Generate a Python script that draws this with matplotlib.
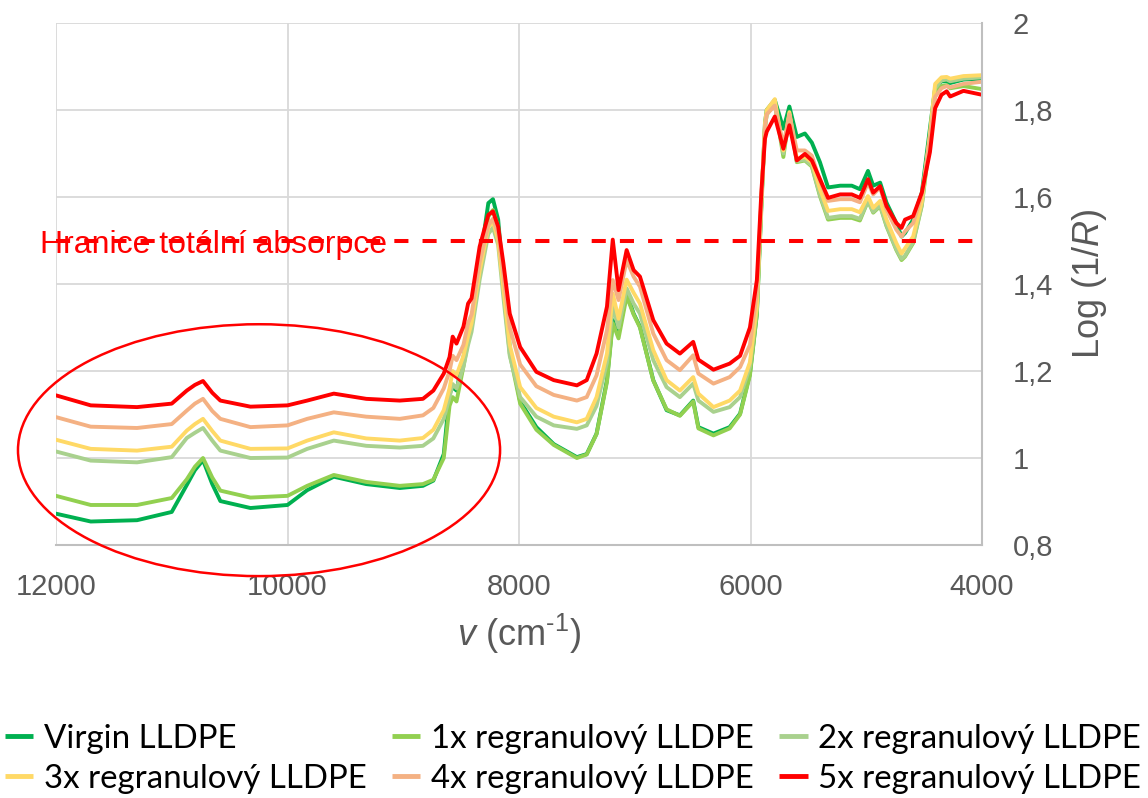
import matplotlib
matplotlib.use("Agg")
import matplotlib.pyplot as plt
from matplotlib.patches import Ellipse

plt.rcParams['font.family'] = ['Liberation Sans', 'DejaVu Sans']
plt.rcParams['mathtext.fontset'] = 'custom'
plt.rcParams['mathtext.rm'] = 'Liberation Sans'
plt.rcParams['mathtext.it'] = 'Liberation Sans:italic'

# ---------------- data ----------------
wavenumber = [12000, 11700, 11300, 11000, 10870, 10800, 10730, 10650, 10580, 10320, 10000, 9830,
              9600, 9320, 9030, 8830, 8740, 8650, 8600, 8573, 8540, 8480,
              8440, 8410, 8340, 8265, 8225, 8180, 8135, 8080, 7990, 7850,
              7700, 7500, 7415, 7330, 7240, 7190, 7140, 7070, 7010, 6955,
              6840, 6725, 6610, 6495, 6450, 6320, 6180, 6090, 6005, 5945,
              5905, 5875, 5860, 5790, 5716, 5664, 5600, 5530, 5470, 5400,
              5330, 5225, 5125, 5055, 4985, 4940, 4880, 4825, 4740, 4695,
              4665, 4595, 4520, 4450, 4405, 4350, 4305, 4275, 4160, 4000]

virgin = [0.872, 0.854, 0.857, 0.876, 0.938, 0.972, 0.995, 0.940, 0.901, 0.885, 0.892, 0.926,
          0.957, 0.940, 0.931, 0.936, 0.948, 1.009, 1.148, 1.163, 1.155, 1.232,
          1.280, 1.309, 1.448, 1.586, 1.595, 1.548, 1.409, 1.255, 1.130, 1.071,
          1.032, 1.002, 1.009, 1.056, 1.179, 1.317, 1.286, 1.379, 1.332, 1.302,
          1.179, 1.110, 1.098, 1.132, 1.071, 1.056, 1.071, 1.102, 1.194, 1.332,
          1.590, 1.770, 1.800, 1.823, 1.757, 1.808, 1.738, 1.746, 1.725, 1.680,
          1.622, 1.626, 1.626, 1.618, 1.660, 1.626, 1.633, 1.587, 1.540, 1.509,
          1.517, 1.548, 1.610, 1.757, 1.850, 1.866, 1.866, 1.862, 1.870, 1.872]

regr_1x = [0.913, 0.892, 0.892, 0.908, 0.951, 0.980, 1.000, 0.955, 0.925, 0.909, 0.913, 0.936,
           0.961, 0.945, 0.936, 0.940, 0.950, 1.000, 1.120, 1.140, 1.130, 1.210,
           1.270, 1.300, 1.430, 1.555, 1.570, 1.530, 1.390, 1.240, 1.125, 1.065,
           1.030, 1.000, 1.008, 1.055, 1.175, 1.310, 1.275, 1.372, 1.330, 1.300,
           1.178, 1.112, 1.097, 1.130, 1.068, 1.052, 1.068, 1.100, 1.190, 1.330,
           1.580, 1.760, 1.790, 1.815, 1.692, 1.790, 1.680, 1.684, 1.670, 1.602,
           1.548, 1.552, 1.552, 1.546, 1.591, 1.564, 1.579, 1.533, 1.478, 1.455,
           1.463, 1.494, 1.580, 1.730, 1.840, 1.855, 1.857, 1.850, 1.855, 1.848]

regr_2x = [1.015, 0.994, 0.990, 1.002, 1.046, 1.058, 1.069, 1.040, 1.017, 1.000, 1.001, 1.021,
           1.040, 1.028, 1.024, 1.028, 1.045, 1.090, 1.140, 1.170, 1.160, 1.210,
           1.260, 1.290, 1.410, 1.515, 1.530, 1.490, 1.370, 1.235, 1.140, 1.095,
           1.075, 1.067, 1.075, 1.120, 1.220, 1.348, 1.300, 1.390, 1.355, 1.332,
           1.225, 1.163, 1.140, 1.171, 1.132, 1.106, 1.117, 1.140, 1.210, 1.345,
           1.600, 1.760, 1.790, 1.815, 1.700, 1.790, 1.682, 1.686, 1.672, 1.605,
           1.552, 1.556, 1.556, 1.550, 1.591, 1.566, 1.581, 1.535, 1.480, 1.458,
           1.465, 1.497, 1.582, 1.740, 1.850, 1.868, 1.870, 1.866, 1.872, 1.875]

regr_3x = [1.042, 1.021, 1.017, 1.026, 1.063, 1.078, 1.090, 1.062, 1.040, 1.021, 1.022, 1.040,
           1.059, 1.045, 1.040, 1.046, 1.065, 1.110, 1.160, 1.200, 1.190, 1.235,
           1.280, 1.310, 1.430, 1.530, 1.545, 1.500, 1.390, 1.260, 1.163, 1.115,
           1.095, 1.082, 1.090, 1.140, 1.240, 1.378, 1.320, 1.410, 1.380, 1.355,
           1.248, 1.179, 1.155, 1.186, 1.148, 1.117, 1.132, 1.155, 1.220, 1.350,
           1.600, 1.770, 1.800, 1.825, 1.707, 1.795, 1.688, 1.692, 1.680, 1.618,
           1.568, 1.572, 1.572, 1.565, 1.602, 1.575, 1.591, 1.548, 1.494, 1.470,
           1.482, 1.509, 1.590, 1.745, 1.860, 1.875, 1.876, 1.872, 1.878, 1.880]

regr_4x = [1.094, 1.072, 1.069, 1.078, 1.109, 1.125, 1.136, 1.108, 1.090, 1.071, 1.075, 1.090,
           1.105, 1.095, 1.090, 1.098, 1.115, 1.160, 1.200, 1.235, 1.225, 1.260,
           1.310, 1.330, 1.450, 1.535, 1.550, 1.515, 1.420, 1.300, 1.215, 1.165,
           1.145, 1.132, 1.140, 1.190, 1.294, 1.409, 1.363, 1.455, 1.417, 1.394,
           1.286, 1.225, 1.202, 1.236, 1.194, 1.171, 1.186, 1.209, 1.260, 1.380,
           1.600, 1.760, 1.790, 1.810, 1.719, 1.790, 1.707, 1.707, 1.695, 1.637,
           1.591, 1.595, 1.595, 1.588, 1.633, 1.606, 1.622, 1.571, 1.525, 1.509,
           1.521, 1.540, 1.605, 1.735, 1.830, 1.850, 1.855, 1.852, 1.860, 1.865]

regr_5x = [1.144, 1.121, 1.117, 1.125, 1.155, 1.168, 1.177, 1.150, 1.132, 1.118, 1.121, 1.132,
           1.148, 1.136, 1.132, 1.136, 1.155, 1.194, 1.232, 1.279, 1.263, 1.302,
           1.355, 1.367, 1.486, 1.559, 1.567, 1.532, 1.448, 1.332, 1.255, 1.198,
           1.179, 1.167, 1.179, 1.240, 1.348, 1.502, 1.386, 1.478, 1.432, 1.417,
           1.317, 1.263, 1.240, 1.267, 1.226, 1.203, 1.217, 1.235, 1.300, 1.409,
           1.617, 1.734, 1.750, 1.785, 1.711, 1.765, 1.684, 1.699, 1.684, 1.641,
           1.598, 1.606, 1.606, 1.598, 1.641, 1.610, 1.625, 1.579, 1.540, 1.529,
           1.548, 1.556, 1.610, 1.703, 1.804, 1.835, 1.843, 1.831, 1.844, 1.835]

series_labels = ["Virgin LLDPE", "1x regranulový LLDPE", "2x regranulový LLDPE",
                 "3x regranulový LLDPE", "4x regranulový LLDPE", "5x regranulový LLDPE"]
series_values = [virgin, regr_1x, regr_2x, regr_3x, regr_4x, regr_5x]
series_colors = ["#00B050", "#92D050", "#A9D18E", "#FFD966", "#F4B183", "#FF0000"]

x_ticks = [12000, 10000, 8000, 6000, 4000]
y_ticks = [0.8, 1.0, 1.2, 1.4, 1.6, 1.8, 2.0]
y_tick_labels = ["0,8", "1", "1,2", "1,4", "1,6", "1,8", "2"]
limit_value = 1.5
limit_label = "Hranice totální absorpce"

# ---------------- figure ----------------
fig = plt.figure(figsize=(11.48, 7.98), dpi=100)
ax = fig.add_axes([56 / 1148, 1 - 545 / 798, (982 - 56) / 1148, (545 - 23) / 798])

lines = []
for vals, lab, col in zip(series_values, series_labels, series_colors):
    ln, = ax.plot(wavenumber, vals, color=col, lw=2.8, label=lab,
                  solid_joinstyle='round', solid_capstyle='round')
    lines.append(ln)

ax.set_xlim(12000, 4000)
ax.set_ylim(0.8, 2.0)
ax.set_xticks(x_ticks)
ax.set_xticklabels([str(t) for t in x_ticks])
ax.set_yticks(y_ticks)
ax.set_yticklabels(y_tick_labels)
ax.yaxis.tick_right()
ax.yaxis.set_label_position('right')
ax.tick_params(axis='both', length=0, labelsize=21, colors='#595959')
ax.tick_params(axis='x', pad=20)
ax.tick_params(axis='y', pad=22)

ax.grid(True, color='#D9D9D9', lw=1.3)
ax.set_axisbelow(True)
for s in ['left', 'top']:
    ax.spines[s].set_visible(False)
for s in ['right', 'bottom']:
    ax.spines[s].set_color('#BFBFBF')
    ax.spines[s].set_linewidth(1.5)

ax.set_xlabel(r"$\it{v}$ (cm$^{\text{-1}}$)", fontsize=26, color='#595959', labelpad=8)
ax.set_ylabel(r"Log (1/$\it{R}$)", fontsize=26, color='#595959', labelpad=12)

# total absorption limit
ax.axhline(limit_value, color='#FF0000', lw=2.9, dashes=(3.5, 3.5), zorder=5)
ax.text(12140, 1.472, limit_label, color='#FF0000', fontsize=23,
        ha='left', va='baseline', clip_on=False, zorder=6)

# highlight ellipse
ell = Ellipse((10246, 1.018), width=4165, height=0.579, fill=False,
              ec='#FF0000', lw=1.8, clip_on=False, zorder=7)
ax.add_patch(ell)

# legend (row-wise order: 3 columns x 2 rows)
order = [0, 3, 1, 4, 2, 5]
leg = fig.legend([lines[i] for i in order], [series_labels[i] for i in order],
                 ncol=3, loc='upper left', bbox_to_anchor=(5 / 1148, 1 - 724 / 798),
                 frameon=False, prop={'family': 'Lato', 'size': 23.8},
                 handlelength=0.85, handletextpad=0.32, columnspacing=0.78,
                 labelspacing=0.3, borderpad=0, borderaxespad=0)
for h in leg.get_lines():
    h.set_linewidth(3.5)
    h.set_solid_capstyle('butt')

fig.savefig("out.png", dpi=100, facecolor='white')
